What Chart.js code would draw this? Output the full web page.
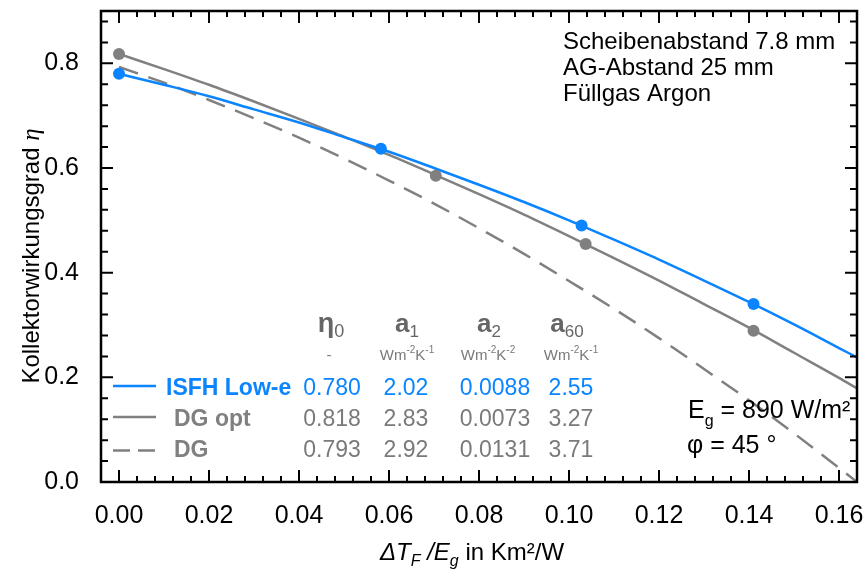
<!DOCTYPE html>
<html><head><meta charset="utf-8">
<script src="https://cdn.jsdelivr.net/npm/chart.js@4"></script>
<style>html,body{margin:0;padding:0;background:#fff}#wrap{width:866px;height:577px}</style>
</head><body><div id="wrap"><canvas id="c" width="866" height="577"></canvas></div>
<script>
// ---- data ----
const xGrid      = [0, 0.01, 0.02, 0.03, 0.04, 0.05, 0.06, 0.07, 0.08, 0.09, 0.10, 0.11, 0.12, 0.13, 0.14, 0.15, 0.16, 0.164];
const isfhCurve  = [0.780, 0.759, 0.737, 0.712, 0.687, 0.659, 0.631, 0.600, 0.568, 0.535, 0.500, 0.463, 0.425, 0.385, 0.344, 0.301, 0.256, 0.238];
const dgOptCurve = [0.818, 0.789, 0.759, 0.727, 0.694, 0.660, 0.625, 0.588, 0.550, 0.511, 0.470, 0.428, 0.385, 0.340, 0.295, 0.247, 0.199, 0.179];
const dgCurve    = [0.793, 0.763, 0.730, 0.695, 0.658, 0.618, 0.576, 0.532, 0.485, 0.436, 0.384, 0.331, 0.275, 0.216, 0.156, 0.093, 0.027, 0.000];

const isfhPtsX  = [0, 0.0582, 0.1028, 0.141];
const isfhPtsY  = [0.780, 0.637, 0.490, 0.340];
const dgOptPtsX = [0, 0.0704, 0.1037, 0.141];
const dgOptPtsY = [0.818, 0.585, 0.455, 0.289];

const xTicks      = [0, 0.02, 0.04, 0.06, 0.08, 0.10, 0.12, 0.14, 0.16];
const xTickLabels = ['0.00','0.02','0.04','0.06','0.08','0.10','0.12','0.14','0.16'];
const yTicks      = [0, 0.2, 0.4, 0.6, 0.8];
const yTickLabels = ['0.0','0.2','0.4','0.6','0.8'];

const seriesNames = ['ISFH Low-e', 'DG opt', 'DG'];
const eta0Vals = ['0.780', '0.818', '0.793'];
const a1Vals   = ['2.02', '2.83', '2.92'];
const a2Vals   = ['0.0088', '0.0073', '0.0131'];
const a60Vals  = ['2.55', '3.27', '3.71'];

const infoLines = ['Scheibenabstand 7.8 mm', 'AG-Abstand 25 mm', 'Füllgas Argon'];

const BLUE = '#0a84ff', GRAY = '#808080', TGRAY = '#7a7a7a';
const F = 'Liberation Sans, Arial, sans-serif';

function rich(ctx, parts, x, y, align) {
  let w = 0;
  parts.forEach(p => { ctx.font = p[1]; w += ctx.measureText(p[0]).width; });
  let cx = align === 'center' ? x - w / 2 : (align === 'right' ? x - w : x);
  ctx.textAlign = 'left';
  parts.forEach(p => { ctx.font = p[1]; ctx.fillText(p[0], cx, y + (p[2] || 0)); cx += ctx.measureText(p[0]).width; });
}

const decor = {
  id: 'decor',
  afterDraw(chart) {
    const ctx = chart.ctx, a = chart.chartArea, xs = chart.scales.x, ys = chart.scales.y;
    ctx.save();
    ctx.strokeStyle = '#000'; ctx.lineWidth = 2.5;
    ctx.strokeRect(a.left, a.top, a.right - a.left, a.bottom - a.top);
    ctx.lineWidth = 2;
    for (let i = -1; i <= 41; i++) {
      const v = i * 0.004; const px = xs.getPixelForValue(v);
      if (px < a.left + 1 || px > a.right - 1) continue;
      const len = (i % 5 === 0) ? 12 : 6;
      ctx.beginPath(); ctx.moveTo(px, a.bottom); ctx.lineTo(px, a.bottom - len);
      ctx.moveTo(px, a.top); ctx.lineTo(px, a.top + len); ctx.stroke();
    }
    for (let i = 0; i <= 23; i++) {
      const v = i * 0.04; const py = ys.getPixelForValue(v);
      if (py < a.top + 1 || py > a.bottom - 1) continue;
      const len = (i % 5 === 0) ? 12 : 7;
      ctx.beginPath(); ctx.moveTo(a.left, py); ctx.lineTo(a.left + len, py);
      ctx.moveTo(a.right, py); ctx.lineTo(a.right - len, py); ctx.stroke();
    }
    ctx.fillStyle = '#000'; ctx.textBaseline = 'alphabetic';
    ctx.save(); ctx.translate(39, 256); ctx.rotate(-Math.PI / 2);
    rich(ctx, [['Kollektorwirkungsgrad ', '24px ' + F], ['η', 'italic 25px Liberation Serif, serif']], 0, 0, 'center');
    ctx.restore();
    rich(ctx, [['ΔT', 'italic 24px ' + F], ['F', 'italic 16px ' + F, 6], [' /E', 'italic 24px ' + F], ['g', 'italic 16px ' + F, 6], [' in Km²/W', '24px ' + F]], 472, 560, 'center');
    ctx.textAlign = 'left';
    ctx.font = '24px ' + F;
    infoLines.forEach((t, i) => ctx.fillText(t, 563, 48.5 + i * 26.3));
    rich(ctx, [['E', '25px ' + F], ['g', '16px ' + F, 8], [' = 890 W/m²', '25px ' + F]], 688, 418, 'left');
    rich(ctx, [['φ = 45 °', '25px ' + F]], 687, 453, 'left');
    ctx.fillStyle = '#666';
    rich(ctx, [['η', 'bold 27px ' + F], ['0', '18px ' + F, 5]], 331, 332, 'center');
    rich(ctx, [['a', 'bold 26px ' + F], ['1', '17px ' + F, 5]], 407, 332, 'center');
    rich(ctx, [['a', 'bold 26px ' + F], ['2', '17px ' + F, 5]], 489, 332, 'center');
    rich(ctx, [['a', 'bold 26px ' + F], ['60', '17px ' + F, 5]], 567, 332, 'center');
    const unit = (e1, e2, x) => rich(ctx, [['Wm', '15px ' + F], [e1, '10px ' + F, -7], ['K', '15px ' + F], [e2, '10px ' + F, -7]], x, 360, 'center');
    ctx.fillStyle = TGRAY;
    rich(ctx, [['-', '15px ' + F]], 329, 360, 'center');
    unit('-2', '-1', 407); unit('-2', '-2', 488); unit('-2', '-1', 571);
    const rowY = [395, 426, 457], lineY = [386, 417, 450.5];
    const cols = [[eta0Vals, 332], [a1Vals, 406], [a2Vals, 495], [a60Vals, 571]];
    for (let r = 0; r < 3; r++) {
      const col = r === 0 ? BLUE : GRAY;
      ctx.strokeStyle = col; ctx.lineWidth = 2.5;
      ctx.setLineDash(r === 2 ? [17, 8] : []);
      ctx.beginPath(); ctx.moveTo(113, lineY[r]); ctx.lineTo(156, lineY[r]); ctx.stroke();
      ctx.setLineDash([]);
      ctx.fillStyle = col; ctx.textAlign = 'left';
      ctx.font = 'bold 23px ' + F;
      ctx.fillText(seriesNames[r], r === 0 ? 166 : 174, rowY[r]);
      ctx.fillStyle = r === 0 ? BLUE : TGRAY;
      ctx.font = '23px ' + F; ctx.textAlign = 'center';
      cols.forEach(c => ctx.fillText(c[0][r], c[1], rowY[r]));
    }
    ctx.restore();
  }
};

new Chart(document.getElementById('c'), {
  type: 'scatter',
  data: {
    datasets: [
      { label: 'ISFH Low-e pts', data: isfhPtsX.map((x, i) => ({x, y: isfhPtsY[i]})), pointRadius: 6, pointBackgroundColor: BLUE, pointBorderWidth: 0, showLine: false },
      { label: 'DG opt pts', data: dgOptPtsX.map((x, i) => ({x, y: dgOptPtsY[i]})), pointRadius: 6, pointBackgroundColor: GRAY, pointBorderWidth: 0, showLine: false },
      { label: 'ISFH Low-e', data: xGrid.map((x, i) => ({x, y: isfhCurve[i]})), showLine: true, borderColor: BLUE, borderWidth: 2.5, pointRadius: 0, cubicInterpolationMode: 'monotone' },
      { label: 'DG opt', data: xGrid.map((x, i) => ({x, y: dgOptCurve[i]})), showLine: true, borderColor: GRAY, borderWidth: 2.5, pointRadius: 0, cubicInterpolationMode: 'monotone' },
      { label: 'DG', data: xGrid.map((x, i) => ({x, y: dgCurve[i]})), showLine: true, borderColor: GRAY, borderWidth: 2.5, borderDash: [20, 11], pointRadius: 0, cubicInterpolationMode: 'monotone' }
    ]
  },
  options: {
    responsive: false, animation: false, devicePixelRatio: 1,
    layout: { padding: { left: 0, top: 11, right: 9, bottom: 0 } },
    plugins: { legend: { display: false }, tooltip: { enabled: false } },
    scales: {
      x: {
        type: 'linear', min: -0.004, max: 0.164,
        afterBuildTicks: s => { s.ticks = xTicks.map(v => ({value: v})); },
        afterFit: s => { s.height = 95; s.paddingLeft = 0; s.paddingRight = 0; },
        grid: { display: false }, border: { display: false },
        ticks: { callback: (v, i) => xTickLabels[i], color: '#000', font: { family: F, size: 25 }, padding: 11, autoSkip: false, maxRotation: 0 }
      },
      y: {
        type: 'linear', min: 0, max: 0.9,
        afterBuildTicks: s => { s.ticks = yTicks.map(v => ({value: v})); },
        afterFit: s => { s.width = 101; s.paddingTop = 0; s.paddingBottom = 0; },
        grid: { display: false }, border: { display: false },
        ticks: { callback: (v, i) => yTickLabels[i], color: '#000', font: { family: F, size: 25 }, padding: 14 }
      }
    }
  },
  plugins: [decor]
});
</script>
</body></html>
